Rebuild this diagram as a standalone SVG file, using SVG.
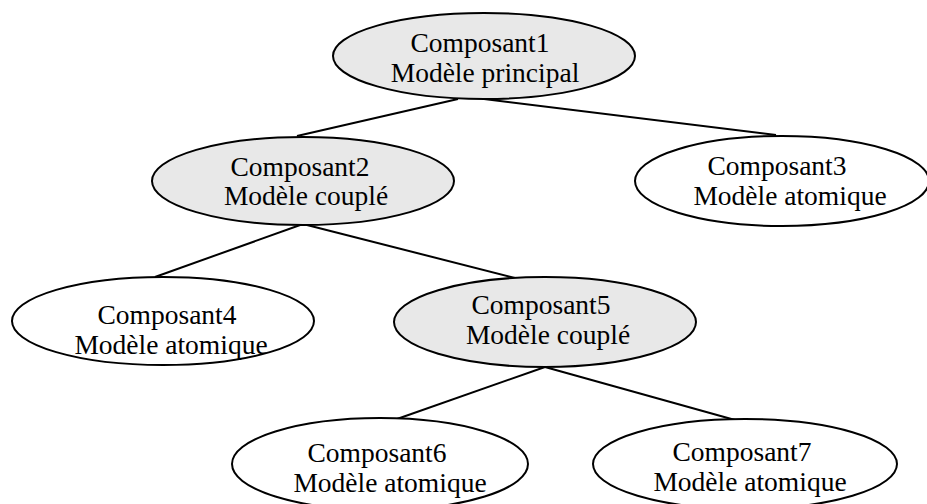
<svg xmlns="http://www.w3.org/2000/svg" width="927" height="504" viewBox="0 0 927 504">
  <style>
    .node ellipse { stroke: #000; stroke-width: 2; }
    .coupled ellipse { fill: #e8e8e8; }
    .atomic ellipse { fill: #fff; }
    .node text { font-family: "Liberation Serif", "Times New Roman", serif; font-size: 27.5px; fill: #000; text-anchor: middle; }
    #links line { stroke: #000; stroke-width: 2; }
  </style>
  <rect width="927" height="504" fill="#fff"/>

  <!-- tree edges, drawn under the nodes -->
  <g id="links">
    <line x1="458" y1="99" x2="297" y2="136"/>
    <line x1="484" y1="99" x2="776" y2="135"/>
    <line x1="303" y1="224" x2="155" y2="277"/>
    <line x1="303" y1="224" x2="515" y2="278"/>
    <line x1="545" y1="367" x2="397" y2="419"/>
    <line x1="545" y1="367" x2="735" y2="420"/>
  </g>

  <g id="composant1" class="node coupled">
    <ellipse cx="484" cy="56" rx="151" ry="43"/>
    <text x="480" y="52">Composant1</text>
    <text x="485" y="82">Modèle principal</text>
  </g>

  <g id="composant2" class="node coupled">
    <ellipse cx="303" cy="181" rx="151" ry="44"/>
    <text x="300" y="176">Composant2</text>
    <text x="306" y="205">Modèle couplé</text>
  </g>

  <g id="composant3" class="node atomic">
    <ellipse cx="782" cy="181" rx="147" ry="45"/>
    <text x="777" y="175">Composant3</text>
    <text x="790" y="205">Modèle atomique</text>
  </g>

  <g id="composant4" class="node atomic">
    <ellipse cx="163" cy="321" rx="151" ry="44"/>
    <text x="167" y="324">Composant4</text>
    <text x="171" y="354">Modèle atomique</text>
  </g>

  <g id="composant5" class="node coupled">
    <ellipse cx="545" cy="322" rx="151" ry="45"/>
    <text x="541" y="314">Composant5</text>
    <text x="548" y="344">Modèle couplé</text>
  </g>

  <g id="composant6" class="node atomic">
    <ellipse cx="380" cy="464" rx="148" ry="46"/>
    <text x="377" y="462">Composant6</text>
    <text x="390" y="492">Modèle atomique</text>
  </g>

  <g id="composant7" class="node atomic">
    <ellipse cx="745" cy="464" rx="152" ry="45"/>
    <text x="742" y="461">Composant7</text>
    <text x="750" y="491">Modèle atomique</text>
  </g>
</svg>
